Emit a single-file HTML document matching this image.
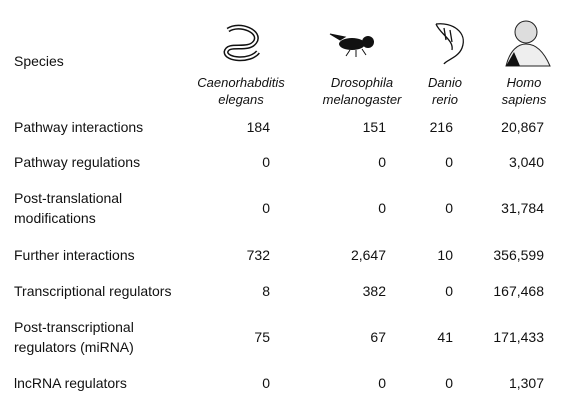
<!DOCTYPE html>
<html><head><meta charset="utf-8"><style>
body{margin:0;width:564px;height:411px;background:#fff;font-family:"Liberation Sans",sans-serif;font-size:14px;color:#111;position:relative;overflow:hidden}
.t{position:absolute;white-space:nowrap;line-height:16px}
.r{text-align:right;transform:translateX(-100%)}
.c{text-align:center;transform:translateX(-50%);font-style:italic;line-height:17px;font-size:13px}
svg{position:absolute;left:0;top:0}
</style></head><body>
<svg width="564" height="80">
 <g fill="none" stroke="#111">
  <path d="M228 30 C240 22 262 32 255 42 C248 52 228 42 226 52 C226 60 250 62 258 52" stroke-width="5"/>
  <path d="M228 30 C240 22 262 32 255 42 C248 52 228 42 226 52 C226 60 250 62 258 52" stroke="#fff" stroke-width="2"/>
 </g>
 <g fill="#111">
  <ellipse cx="352" cy="44" rx="13" ry="6"/><circle cx="368" cy="42" r="6"/>
  <path d="M340 40 L330 34 L345 37Z M350 50 L346 56 M356 50 L356 57 M362 49 L366 55" stroke="#111"/>
 </g>
 <g fill="none" stroke="#111" stroke-width="1.3">
  <path d="M436 24 C452 22 468 32 462 48 C458 58 446 60 444 64 M436 24 C440 34 454 40 452 50 M444 28 L446 40 M450 30 L452 42"/>
 </g>
 <g>
  <circle cx="526" cy="32" r="11" fill="#ddd" stroke="#222"/>
  <path d="M506 66 C510 50 518 44 526 44 C536 44 544 52 550 66Z" fill="#eee" stroke="#222"/>
  <path d="M506 66 L514 52 L520 66Z" fill="#111"/>
 </g>
</svg>
<div class="t" style="left:14px;top:53px">Species</div>
<div class="t c" style="left:241px;top:74px">Caenorhabditis<br>elegans</div>
<div class="t c" style="left:362px;top:74px">Drosophila<br>melanogaster</div>
<div class="t c" style="left:445px;top:74px">Danio<br>rerio</div>
<div class="t c" style="left:524px;top:74px">Homo<br>sapiens</div>
<div id="rows"></div>
<script>
const labels=[["Pathway interactions"],["Pathway regulations"],["Post-translational","modifications"],["Further interactions"],["Transcriptional regulators"],["Post-transcriptional","regulators (miRNA)"],["lncRNA regulators"]];
const celegans=["184","0","0","732","8","75","0"];
const dmel=["151","0","0","2,647","382","67","0"];
const drerio=["216","0","0","10","0","41","0"];
const hsap=["20,867","3,040","31,784","356,599","167,468","171,433","1,307"];
const rowY=[127,162,208,255,291,337,383];
const colX=[270,386,453,544];
const cols=[celegans,dmel,drerio,hsap];
const host=document.getElementById('rows');
labels.forEach((l,i)=>{
 const d=document.createElement('div');
 d.className='t';
 
 
 d.style.left='14px';d.style.lineHeight='20px';
 d.style.top=(rowY[i]-l.length*10)+'px';
 d.innerHTML=l.join('<br>');
 host.appendChild(d);
 cols.forEach((c,j)=>{
  const v=document.createElement('div');
  v.className='t r';
  
  
  v.style.left=colX[j]+'px';v.style.top=(rowY[i]-8)+'px';
  v.textContent=c[i];
  host.appendChild(v);
 });
});
</script>
</body></html>
